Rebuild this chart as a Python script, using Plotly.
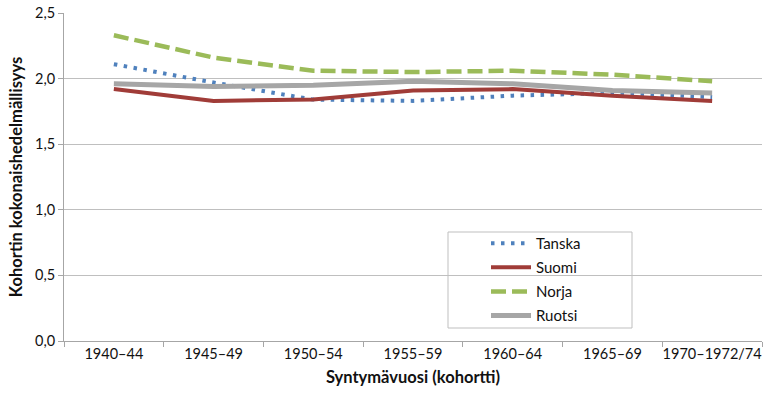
import plotly.graph_objects as go

categories = ["1940–44", "1945–49", "1950–54", "1955–59", "1960–64", "1965–69", "1970–1972/74"]
tanska = [2.11, 1.97, 1.84, 1.83, 1.87, 1.89, 1.86]
suomi = [1.92, 1.83, 1.84, 1.91, 1.92, 1.87, 1.83]
norja = [2.33, 2.16, 2.06, 2.05, 2.06, 2.03, 1.98]
ruotsi = [1.96, 1.94, 1.95, 1.98, 1.96, 1.91, 1.89]
y_ticks = [0, 0.5, 1.0, 1.5, 2.0, 2.5]
y_ticklabels = ["0,0", "0,5", "1,0", "1,5", "2,0", "2,5"]

font_family = "Lato, sans-serif"

fig = go.Figure()
fig.add_trace(go.Scatter(x=categories, y=tanska, name="Tanska", mode="lines", legendgroup="a",
                         line=dict(color="#4f81bd", width=4, dash="3.5px,6.5px")))
fig.add_trace(go.Scatter(x=categories, y=suomi, name="Suomi", mode="lines", legendgroup="b",
                         line=dict(color="#a03c38", width=4)))
fig.add_trace(go.Scatter(x=categories, y=norja, name="Norja", mode="lines", legendgroup="c",
                         line=dict(color="#9bbb59", width=4.5, dash="15px,6px")))
fig.add_trace(go.Scatter(x=categories, y=ruotsi, name="Ruotsi", mode="lines", legendgroup="d",
                         line=dict(color="#a6a6a6", width=5)))

W, H = 763, 400
L, R, T, B = 64, 1, 13, 59
pw, ph = W - L - R, H - T - B

fig.update_layout(
    width=W, height=H,
    margin=dict(l=L, r=R, t=T, b=B, autoexpand=False),
    paper_bgcolor="white", plot_bgcolor="white",
    font=dict(family=font_family, size=14.5, color="#111111"),
    showlegend=True,
    legend=dict(x=(486 - L) / pw, y=(H - B - 227) / ph, xanchor="left", yanchor="top",
                bgcolor="rgba(0,0,0,0)", borderwidth=0,
                font=dict(size=15), tracegroupgap=1.6, itemwidth=40),
    shapes=[dict(type="rect", xref="paper", yref="paper",
                 x0=(448 - L) / pw, x1=(632 - L) / pw,
                 y0=(H - B - 328) / ph, y1=(H - B - 232) / ph,
                 line=dict(color="#bfbfbf", width=1), fillcolor="white", layer="below")],
)
fig.update_xaxes(
    type="category", showline=True, linecolor="#a6a6a6", linewidth=1,
    ticks="outside", tickson="boundaries", ticklen=5, tickcolor="#a6a6a6",
    showgrid=False, range=[-0.5, 6.5], tickangle=0, automargin=False,
    title=dict(text="<b>Syntymävuosi (kohortti)</b>", font=dict(size=16.5), standoff=10),
)
fig.update_yaxes(
    range=[0, 2.5], tickvals=y_ticks, ticktext=y_ticklabels,
    showline=True, linecolor="#a6a6a6", linewidth=1,
    ticks="outside", ticklen=5, tickcolor="#a6a6a6", automargin=False,
    showgrid=True, gridcolor="#bfbfbf", gridwidth=1, zeroline=False,
    title=dict(text="<b>Kohortin kokonaishedelmällisyys</b>", font=dict(size=16.5), standoff=8),
)

fig.write_html("out.html", config={"displayModeBar": False},
               post_script="document.body.style.margin='0';")
